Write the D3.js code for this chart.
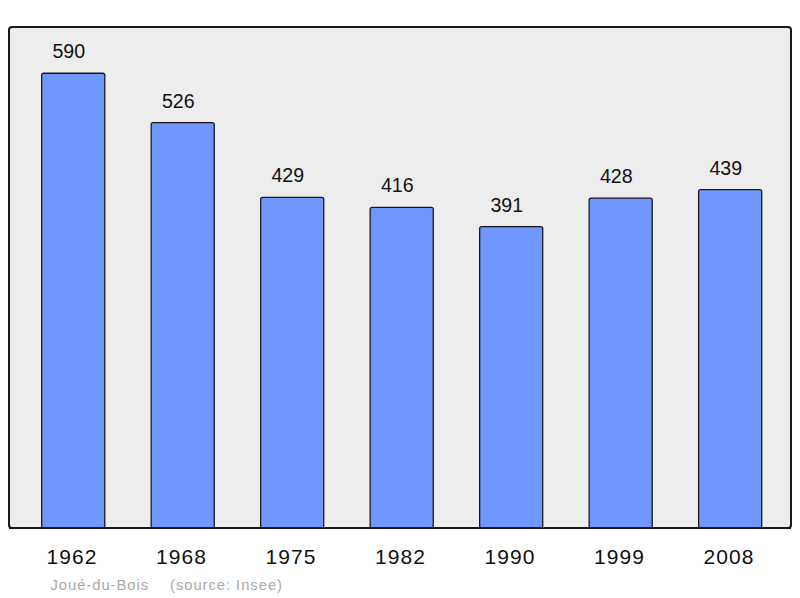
<!DOCTYPE html>
<html><head><meta charset="utf-8">
<script src="https://cdn.jsdelivr.net/npm/d3@7"></script>
<style>body{margin:0;background:#fff}svg{display:block}</style>
</head><body>
<svg id="c" width="800" height="598"></svg>
<script>
const years = ["1962","1968","1975","1982","1990","1999","2008"];
const population = [590,526,429,416,391,428,439];
const footerName = "Joué-du-Bois";
const footerSource = "(source: Insee)";

const svg = d3.select("#c");
const font = "'Liberation Sans', Arial, sans-serif";
const x = d3.scaleBand().domain(years).range([41.7, 761.7]).paddingInner(0.424).paddingOuter(0);
const y = d3.scaleLinear().domain([0, 650]).range([528, 27]);

svg.append("rect").attr("x", 9).attr("y", 27).attr("width", 782).attr("height", 501)
  .attr("rx", 3).attr("fill", "#ededed").attr("stroke", "#1a1a1a").attr("stroke-width", 2);

svg.selectAll("rect.bar").data(years).enter().append("rect").attr("class","bar")
  .attr("x", d => x(d)).attr("width", x.bandwidth())
  .attr("y", (d,i) => y(population[i])).attr("height", (d,i) => y(0) - y(population[i]))
  .attr("rx", 2).attr("fill", "#7097ff").attr("stroke", "#1a1a1a").attr("stroke-width", 1.3);

svg.append("line").attr("x1", 9).attr("x2", 791).attr("y1", 528).attr("y2", 528)
  .attr("stroke", "#1a1a1a").attr("stroke-width", 2);

svg.selectAll("text.val").data(years).enter().append("text").attr("class","val")
  .attr("x", d => x(d) + x.bandwidth()/2 - 4.4).attr("y", (d,i) => y(population[i]) - 15)
  .attr("text-anchor","middle").attr("font-family", font).attr("font-size", 19.6).attr("fill","#111")
  .text((d,i) => population[i]);

const xAxis = svg.append("g").attr("transform","translate(0,528)")
  .call(d3.axisBottom(x).tickSize(0).tickPadding(0));
xAxis.select(".domain").remove();
xAxis.selectAll("text").attr("x", -1.2).attr("y", 36).attr("dy", 0).attr("font-family", font)
  .attr("font-size", 21).attr("letter-spacing", 1.1).attr("fill","#111");

svg.append("text").attr("x", 50.5).attr("y", 589.5).attr("font-family", font).attr("font-size", 14.8)
  .attr("letter-spacing", 0.95).attr("fill","#aaaaaa").text(footerName);
svg.append("text").attr("x", 170).attr("y", 589.5).attr("font-family", font).attr("font-size", 14.8)
  .attr("letter-spacing", 0.95).attr("fill","#aaaaaa").text(footerSource);
</script>
</body></html>
